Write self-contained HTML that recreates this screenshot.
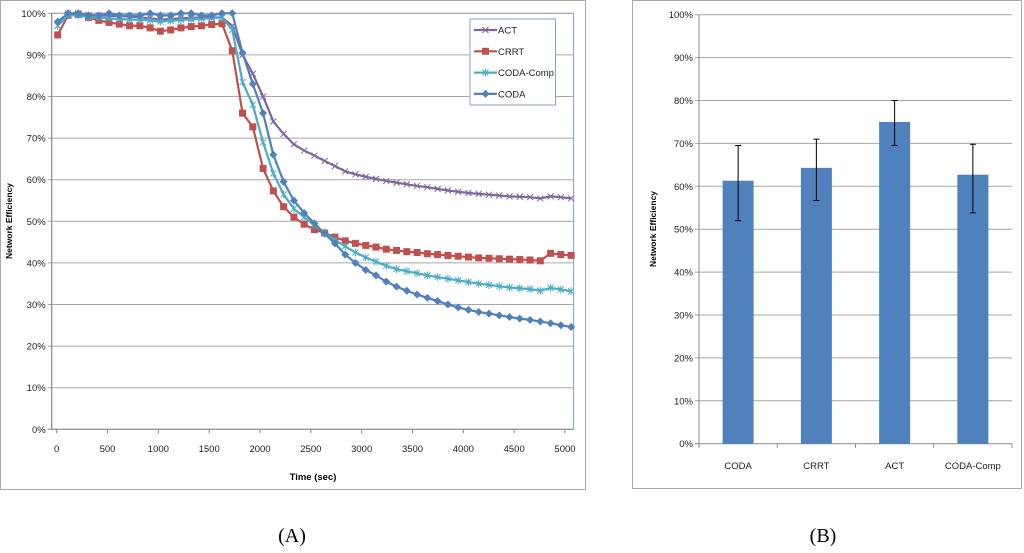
<!DOCTYPE html>
<html><head><meta charset="utf-8"><style>
body{margin:0;background:#fff;width:1024px;height:548px;overflow:hidden;font-family:"Liberation Sans",sans-serif}
svg text{font-family:"Liberation Sans",sans-serif}
</style></head><body>
<svg id="s" width="1024" height="548">
<rect x="0.5" y="0.5" width="585" height="489" fill="#fff" stroke="#aaa"/>
<rect x="632.5" y="0.5" width="389" height="488" fill="#fff" stroke="#aaa"/>
<g id="ga"></g>
<g id="gb"></g>
<text x="292" y="542" font-size="20" text-anchor="middle" font-family="Liberation Serif" style="font-family:'Liberation Serif',serif">(A)</text>
<text x="823" y="542" font-size="20" text-anchor="middle" style="font-family:'Liberation Serif',serif">(B)</text>
</svg>
<script>
const times=[10,111,212,313,414,515,616,717,818,919,1020,1121,1222,1323,1424,1525,1626,1727,1828,1929,2030,2131,2232,2333,2434,2535,2636,2737,2838,2939,3040,3141,3242,3343,3444,3545,3646,3747,3848,3949,4050,4151,4252,4353,4454,4555,4656,4757,4858,4959,5060];
const coda=[98,100,100,99.5,99.5,100,99.5,99.5,99.5,100,99.5,99.5,100,100,99.5,99.5,100,100,90.5,83,76,66,59.5,55,52,49.5,47,44.7,42,40,38.3,37,35.5,34.3,33.3,32.4,31.6,30.8,30,29.3,28.7,28.2,27.8,27.4,27,26.6,26.3,25.9,25.5,25,24.6];
const crrt=[94.8,99.5,99.7,99,98.3,97.8,97.4,97,97,96.5,95.7,96,96.5,96.8,97,97.3,97.5,91,76,72.7,62.7,57.3,53.5,51,49.3,48,47.2,46.2,45.3,44.7,44.2,43.8,43.3,43,42.7,42.5,42.2,42,41.8,41.6,41.4,41.2,41.1,41,40.9,40.8,40.7,40.5,42.3,42,41.8];
const codaComp=[97,99.5,99.5,99,99,98.8,98.6,98.5,98.4,98.3,98,98.2,98.4,98.5,98.7,98.8,99,96,83.5,78,69,61.5,56.5,53,51,49,47.3,45.5,44,42.5,41.3,40.3,39.3,38.5,38,37.5,37,36.6,36.2,35.8,35.4,35,34.7,34.4,34.1,33.9,33.7,33.3,34,33.6,33.2];
const act=[97,100,100,99.6,99.5,99.4,99.3,99.2,99,98.8,98.5,98.6,98.8,98.9,99,99,99,97,90,85.5,80,74,71,68.5,67,65.8,64.5,63.3,62,61.3,60.7,60.2,59.7,59.3,58.9,58.5,58.2,57.8,57.4,57.1,56.8,56.6,56.4,56.2,56,55.9,55.8,55.5,56,55.8,55.5];
const xTicks=[0,500,1000,1500,2000,2500,3000,3500,4000,4500,5000];
const yTicks=[0,10,20,30,40,50,60,70,80,90,100];
const barCats=['CODA','CRRT','ACT','CODA-Comp'];
const barVals=[61.3,64.3,75,62.7];
const errLow=[52,56.7,69.5,53.8];
const errHigh=[69.5,71,80,69.8];

const NS='http://www.w3.org/2000/svg';
function mk(p,t,a){const e=document.createElementNS(NS,t);for(const k in a)e.setAttribute(k,a[k]);p.appendChild(e);return e;}
// Chart A
const ga=document.getElementById('ga');
const ax=t=>56.7+t*0.10166, ay=v=>429.3-v*4.16;
const L=51.7,R=573.6;
mk(ga,'rect',{x:L,y:ay(100),width:R-L,height:ay(0)-ay(100),fill:'none',stroke:'#7fa3d0','stroke-width':1});
yTicks.forEach(v=>{
 const g=mk(ga,'line',{x1:L-4,x2:R,y1:ay(v),y2:ay(v),stroke:v==0?'#888':'#a6a6a6','stroke-width':1});
 
 
 const t=mk(ga,'text',{x:L-6,y:ay(v)+3.5,'font-size':9.5,'text-anchor':'end',fill:'#222'});t.textContent=v+'%';
 
 
});
mk(ga,'line',{x1:L,x2:L,y1:ay(100),y2:ay(0),stroke:'#888'});
xTicks.forEach(v=>{
 mk(ga,'line',{x1:ax(v),x2:ax(v),y1:ay(0),y2:ay(0)+4,stroke:'#888'});
 const t=mk(ga,'text',{x:ax(v),y:452,'font-size':9.5,'text-anchor':'middle',fill:'#222'});t.textContent=v;
 
 
});
let tt=mk(ga,'text',{x:313,y:480,'font-size':9.5,'font-weight':'bold','text-anchor':'middle'});tt.textContent='Time (sec)';


tt=mk(ga,'text',{transform:'translate(12,221) rotate(-90)','font-size':8.5,'font-weight':'bold','text-anchor':'middle'});tt.textContent='Network Efficiency';


function marker(g,type,x,y,c){
 if(type=='sq')mk(g,'rect',{x:x-3.5,y:y-3.5,width:7,height:7,fill:c});
 else if(type=='dia')mk(g,'path',{d:`M${x} ${y-4}L${x+4} ${y}L${x} ${y+4}L${x-4} ${y}Z`,fill:c});
 else if(type=='x')mk(g,'path',{d:`M${x-3} ${y-3}L${x+3} ${y+3}M${x-3} ${y+3}L${x+3} ${y-3}`,stroke:c,'stroke-width':1,fill:'none'});
 else mk(g,'path',{d:`M${x-3} ${y-3}L${x+3} ${y+3}M${x-3} ${y+3}L${x+3} ${y-3}M${x} ${y-4}L${x} ${y+4}`,stroke:c,'stroke-width':1,fill:'none'});
}
const series=[['ACT',act,'#8064a2','x'],['CRRT',crrt,'#c0504d','sq'],['CODA-Comp',codaComp,'#4bacc6','star'],['CODA',coda,'#4f81bd','dia']];
series.forEach(([n,d,c,m])=>{
 const g=mk(ga,'g',{});
 
 
 mk(g,'polyline',{points:d.map((v,i)=>ax(times[i])+','+ay(v)).join(' '),fill:'none',stroke:c,'stroke-width':2.2});
 d.forEach((v,i)=>marker(g,m,ax(times[i]),ay(v),c));
});
const lg=mk(ga,'g',{});


mk(lg,'rect',{x:470,y:19,width:85.5,height:86,fill:'#fff',stroke:'#7fa3d0'});
series.forEach(([n,d,c,m],i)=>{
 const y=30+i*21.3;
 const e=mk(lg,'g',{});
 
 
 mk(e,'line',{x1:474,x2:497,y1:y,y2:y,stroke:c,'stroke-width':2.2});
 marker(e,m,485.5,y,c);
 const t=mk(e,'text',{x:498,y:y+3.5,'font-size':9.5,fill:'#222'});t.textContent=n;
});
// Chart B
const gb=document.getElementById('gb');
const bL=699,bR=1012,by=v=>443.7-v*4.29,bw=(bR-bL)/4;
yTicks.forEach(v=>{
 const g=mk(gb,'line',{x1:bL-4,x2:bR,y1:by(v),y2:by(v),stroke:v==0?'#888':'#a6a6a6'});
 
 
 const t=mk(gb,'text',{x:bL-6,y:by(v)+3.5,'font-size':9.5,'text-anchor':'end',fill:'#222'});t.textContent=v+'%';
 
 
});
mk(gb,'line',{x1:bL,x2:bL,y1:by(100),y2:by(0),stroke:'#888'});
for(let i=0;i<=4;i++)mk(gb,'line',{x1:bL+i*bw,x2:bL+i*bw,y1:by(0),y2:by(0)+4,stroke:'#888'});
tt=mk(gb,'text',{transform:'translate(656,229) rotate(-90)','font-size':8.5,'font-weight':'bold','text-anchor':'middle'});tt.textContent='Network Efficiency';


barCats.forEach((c,i)=>{
 const cx=bL+bw*(i+0.5);
 const r=mk(gb,'rect',{x:cx-15.5,y:by(barVals[i]),width:31,height:by(0)-by(barVals[i]),fill:'#4f81bd'});
 
 
 const e=mk(gb,'path',{d:`M${cx} ${by(errLow[i])}V${by(errHigh[i])}M${cx-3} ${by(errLow[i])}H${cx+3}M${cx-3} ${by(errHigh[i])}H${cx+3}`,stroke:'#000','stroke-width':1,fill:'none'});
 
 
 const t=mk(gb,'text',{x:cx,y:469,'font-size':9.5,'text-anchor':'middle',fill:'#222'});t.textContent=c;
 
 
});
</script>
</body></html>
